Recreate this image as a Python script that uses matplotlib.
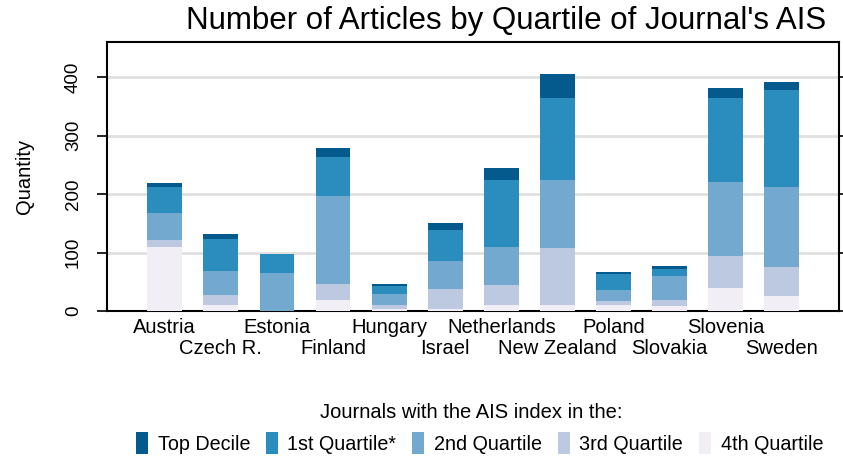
import matplotlib.pyplot as plt
import numpy as np

plt.rcParams["font.family"] = ["Liberation Sans", "DejaVu Sans"]

# data
countries = ["Austria", "Czech R.", "Estonia", "Finland", "Hungary", "Israel",
             "Netherlands", "New Zealand", "Poland", "Slovakia", "Slovenia", "Sweden"]
q4 = [109, 11, 0, 19, 3, 3, 10, 10, 11, 8, 40, 25]
q3 = [13, 16, 0, 28, 7, 35, 35, 98, 6, 11, 54, 50]
q2 = [46, 42, 65, 150, 19, 48, 65, 116, 19, 40, 127, 137]
q1 = [44, 54, 33, 67, 13, 53, 114, 140, 28, 12, 144, 166]
top = [7, 9, 0, 15, 4, 12, 21, 42, 3, 6, 17, 14]

series = [("Top Decile", top, "#045a8d"),
          ("1st Quartile*", q1, "#2b8cbe"),
          ("2nd Quartile", q2, "#74a9cf"),
          ("3rd Quartile", q3, "#bdc9e1"),
          ("4th Quartile", q4, "#f1eef6")]

fig = plt.figure(figsize=(8.43, 4.59), dpi=100)
ax = fig.add_axes([107 / 843, 1 - 311 / 459, (839 - 107) / 843, (311 - 42) / 459])

x = np.arange(len(countries))
bottom = np.zeros(len(countries))
handles = {}
# stack from 4th quartile upward
for name, vals, col in reversed(series):
    b = ax.bar(x, vals, 0.62, bottom=bottom, color=col, zorder=3)
    handles[name] = b
    bottom += np.array(vals)

ax.set_xlim(-1.03, 12.02)
ax.set_ylim(0, 460)
ax.set_yticks([0, 100, 200, 300, 400])
ax.set_yticklabels(["0", "100", "200", "300", "400"], rotation=90, va="center", fontsize=13.5)
ax.yaxis.grid(True, color="#e0e0e0", linewidth=2, zorder=0)
ax.tick_params(axis="y", direction="out", length=7, width=1.2, right=True, pad=11)
ax.set_ylabel("Quantity", fontsize=14.5, labelpad=22)
for s in ax.spines.values():
    s.set_linewidth(1.5)

# staggered country labels: two rows
ax.set_xticks(x)
ax.set_xticklabels(countries, fontsize=14.5)
ax.tick_params(axis="x", length=0)
for i, t in enumerate(ax.xaxis.get_major_ticks()):
    t.set_pad(5 if i % 2 == 0 else 20)

ax.set_title("Number of Articles by Quartile of Journal's AIS", fontsize=22.5, pad=9, x=0.545)

fig.text(471 / 843, 1 - 413 / 459, "Journals with the AIS index in the:", ha="center", va="center",
         fontsize=14.5)
names = [s[0] for s in series]
fig.legend([handles[n] for n in names], names, loc="center left",
           bbox_to_anchor=(122 / 843, 1 - 443 / 459), ncol=5, frameon=False, fontsize=14.2,
           handlelength=0.6, handleheight=1.4, handletextpad=0.5, columnspacing=0.8,
           borderpad=0.2)

fig.savefig("out.png", dpi=100)
